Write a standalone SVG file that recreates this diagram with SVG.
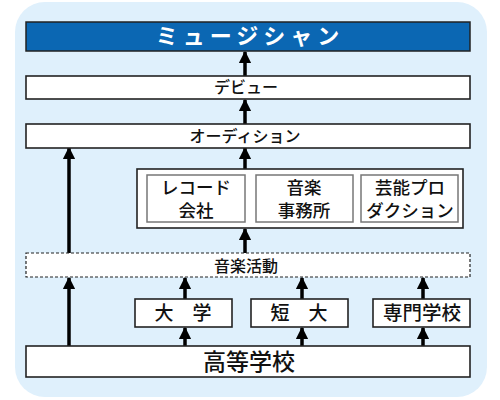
<svg xmlns="http://www.w3.org/2000/svg" width="500" height="400" viewBox="0 0 500 400">
<defs>
<style>
.box{fill:#ffffff;stroke:#222;stroke-width:1.6}
.inner{fill:#ffffff;stroke:#777;stroke-width:1.5}
.t{font-family:"Noto Sans CJK JP","Noto Sans",sans-serif;fill:#111;text-anchor:middle;font-weight:500}
.arr{stroke:#000;stroke-width:3.5;fill:none;marker-end:url(#ah)}
</style>
<marker id="ah" viewBox="0 0 10 10" refX="9" refY="5" markerWidth="3.6" markerHeight="3.6" orient="auto" markerUnits="strokeWidth">
<path d="M0,0 L10,5 L0,10 Z" fill="#000"/>
</marker>
</defs>
<rect x="15" y="2" width="472" height="395" rx="30" fill="#dff0fc"/>
<g id="connectors">
<line class="arr" x1="245" y1="76" x2="245" y2="52"/>
<line class="arr" x1="245" y1="124" x2="245" y2="100"/>
<line class="arr" x1="245" y1="169" x2="245" y2="148"/>
<line class="arr" x1="245" y1="253" x2="245" y2="229"/>
<line class="arr" x1="69" y1="253" x2="69" y2="148"/>
<line class="arr" x1="69" y1="346" x2="69" y2="278"/>
<line class="arr" x1="185" y1="299" x2="185" y2="278"/>
<line class="arr" x1="185" y1="346" x2="185" y2="328"/>
<line class="arr" x1="302" y1="299" x2="302" y2="278"/>
<line class="arr" x1="302" y1="346" x2="302" y2="328"/>
<line class="arr" x1="423" y1="299" x2="423" y2="278"/>
<line class="arr" x1="423" y1="346" x2="423" y2="328"/>
</g>
<g id="musician">
<rect x="26" y="22" width="444" height="29" fill="#0b67b3" stroke="#222" stroke-width="1.5"/>
<text class="t" x="250" y="44" font-size="22" style="fill:#fff;font-weight:bold" letter-spacing="5">ミュージシャン</text>
</g>
<g id="debut">
<rect class="box" x="26" y="76" width="444" height="23"/>
<text class="t" x="246" y="93" font-size="16">デビュー</text>
</g>
<g id="audition">
<rect class="box" x="26" y="124" width="444" height="24"/>
<text class="t" x="245" y="142" font-size="16">オーディション</text>
</g>
<g id="companies">
<rect class="box" x="137" y="169" width="326" height="59"/>
<g id="record">
<rect class="inner" x="147" y="175" width="98" height="47"/>
<text class="t" font-size="17.5"><tspan x="196" y="194">レコード</tspan><tspan x="196" y="216.5">会社</tspan></text>
</g>
<g id="office">
<rect class="inner" x="256" y="175" width="97" height="47"/>
<text class="t" font-size="17.5"><tspan x="304" y="194">音楽</tspan><tspan x="304" y="216.5">事務所</tspan></text>
</g>
<g id="production">
<rect class="inner" x="361" y="175" width="97" height="47"/>
<text class="t" font-size="17.5"><tspan x="410" y="194">芸能プロ</tspan><tspan x="410" y="216.5">ダクション</tspan></text>
</g>
</g>
<g id="activity">
<rect x="26" y="253" width="444" height="24" fill="#fff" stroke="#222" stroke-width="1.2" stroke-dasharray="3,2"/>
<text class="t" x="246" y="272" font-size="16">音楽活動</text>
</g>
<g id="university">
<rect class="box" x="135" y="299" width="97" height="28"/>
<text class="t" x="183" y="320" font-size="19">大　学</text>
</g>
<g id="junior">
<rect class="box" x="251" y="299" width="97" height="28"/>
<text class="t" x="299" y="320" font-size="19">短　大</text>
</g>
<g id="vocational">
<rect class="box" x="373" y="299" width="97" height="28"/>
<text class="t" x="422" y="320" font-size="19.5">専門学校</text>
</g>
<g id="highschool">
<rect class="box" x="26" y="346" width="444" height="31"/>
<text class="t" x="249" y="370" font-size="23">高等学校</text>
</g>
</svg>
